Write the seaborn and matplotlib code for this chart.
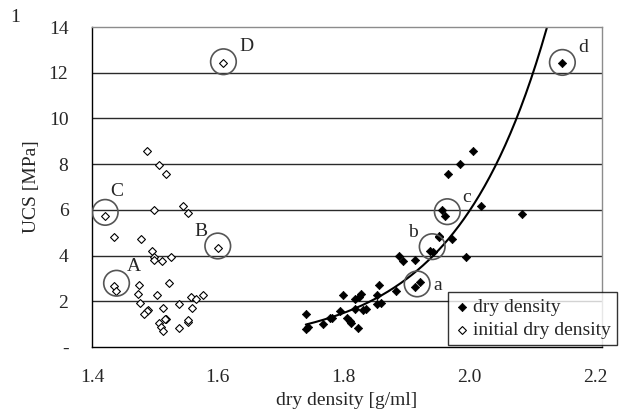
import numpy as np
import pandas as pd
import seaborn as sns
from matplotlib import pyplot as plt

# dry density [g/ml] and UCS [MPa] of the samples (black diamonds)
dry_density = [2.006, 1.985, 1.966, 1.956, 1.962, 2.018, 2.084, 1.952, 1.973,
               1.938, 1.942, 1.952, 1.994, 1.888, 1.894, 1.914, 1.914, 1.922, 1.856,
               1.883, 1.799, 1.827, 1.824, 1.819, 1.854, 1.859, 1.853, 1.794, 1.818,
               1.835, 1.831, 1.782, 1.767, 1.805, 1.810, 1.812, 1.823, 1.740, 1.741,
               1.743, 1.779, 2.147]
ucs_dry = [8.59, 7.99, 7.55, 5.99, 5.73, 6.15, 5.83, 4.83, 4.71,
           4.20, 4.17, 4.86, 3.95, 3.98, 3.76, 3.81, 2.64, 2.83, 2.71,
           2.45, 2.27, 2.32, 2.20, 2.09, 2.27, 1.94, 1.88, 1.59, 1.68,
           1.65, 1.62, 1.25, 1.01, 1.28, 1.14, 1.04, 0.82, 1.44, 0.77,
           0.86, 1.25, 12.41]

# initial dry density [g/ml] and UCS [MPa] (open diamonds)
initial_density = [1.487, 1.506, 1.517, 1.420, 1.498, 1.544, 1.553, 1.435, 1.478,
                   1.495, 1.499, 1.498, 1.512, 1.526, 1.435, 1.438, 1.474, 1.523,
                   1.473, 1.503, 1.477, 1.557, 1.565, 1.577, 1.538, 1.559, 1.513,
                   1.489, 1.487, 1.482, 1.518, 1.516, 1.553, 1.507, 1.509, 1.538,
                   1.513, 1.553, 1.600, 1.608]
ucs_initial = [8.59, 7.98, 7.55, 5.72, 5.99, 6.17, 5.85, 4.81, 4.71,
               4.19, 3.95, 3.81, 3.76, 3.95, 2.67, 2.44, 2.70, 2.81,
               2.31, 2.26, 1.92, 2.20, 2.10, 2.26, 1.88, 1.69, 1.69,
               1.61, 1.56, 1.44, 1.24, 1.21, 1.11, 1.04, 0.89, 0.84,
               0.69, 1.18, 4.33, 12.41]

# marked samples: circle centres and letters
mark_labels = ['A', 'B', 'C', 'D', 'a', 'b', 'c', 'd']
mark_x = [1.439, 1.600, 1.421, 1.609, 1.917, 1.941, 1.965, 2.148]
mark_y = [2.79, 4.42, 5.89, 12.48, 2.76, 4.39, 5.92, 12.45]
text_x = [1.466, 1.574, 1.440, 1.646, 1.950, 1.910, 1.995, 2.181]
text_y = [3.51, 5.04, 6.79, 13.14, 2.67, 5.00, 6.53, 13.11]

x_ticks = [1.4, 1.6, 1.8, 2.0, 2.2]
x_tick_labels = ['1.4', '1.6', '1.8', '2.0', '2.2']
y_ticks = [0, 2, 4, 6, 8, 10, 12, 14]
y_tick_labels = ['-', '2', '4', '6', '8', '10', '12', '14']

df_dry = pd.DataFrame({'density': dry_density, 'ucs': ucs_dry})
df_init = pd.DataFrame({'density': initial_density, 'ucs': ucs_initial})

sns.set_style('white')
plt.rcParams['font.family'] = ['Liberation Serif', 'DejaVu Serif']
fs = 14

fig = plt.figure(figsize=(6.26, 4.13), dpi=100)
ax = fig.add_axes([92 / 626, 1 - 347 / 413, 510 / 626, 320 / 413])

for yv in y_ticks[1:-1]:
    ax.axhline(yv, color='#2a2a2a', lw=1.0, zorder=0)

# exponential trend line fitted to the dry density points
coef = np.polyfit(df_dry['density'], np.log(df_dry['ucs']), 1)
xs = np.linspace(min(dry_density), max(dry_density), 200)
ax.plot(xs, np.exp(np.polyval(coef, xs)), color='black', lw=1.5, zorder=2)

sns.scatterplot(data=df_dry, x='density', y='ucs', marker='D', s=18, color='black',
                edgecolor='black', linewidth=0.5, label='dry density', ax=ax, zorder=3)
sns.scatterplot(data=df_init, x='density', y='ucs', marker='D', s=16, facecolor='white',
                edgecolor='black', linewidth=0.8, label='initial dry density', ax=ax, zorder=3)

ax.scatter(mark_x, mark_y, s=340, facecolors='none', edgecolors='#555555', linewidths=1.2, zorder=4)
for lab, tx, ty in zip(mark_labels, text_x, text_y):
    ax.text(tx, ty, lab, fontsize=fs, ha='center', va='center')

ax.set_xlim(1.4, 2.211)
ax.set_ylim(0, 14)
ax.set_xticks(x_ticks)
ax.set_xticklabels(x_tick_labels, fontsize=fs)
ax.set_yticks(y_ticks)
ax.set_yticklabels(y_tick_labels, fontsize=fs)
ax.tick_params(axis='both', direction='out', length=5, width=1, color='black')
ax.tick_params(axis='x', pad=11)
ax.tick_params(axis='y', pad=12)
ax.set_xlabel('dry density [g/ml]', fontsize=fs, labelpad=4)
ax.set_ylabel('UCS [MPa]', fontsize=fs, labelpad=6)

for side in ['left', 'bottom']:
    ax.spines[side].set_color('black')
    ax.spines[side].set_linewidth(1.0)
for side in ['top', 'right']:
    ax.spines[side].set_color('#8c8c8c')
    ax.spines[side].set_linewidth(1.0)

leg = ax.legend(loc='lower right', bbox_to_anchor=(617 / 626, 1 - 345 / 413),
                bbox_transform=fig.transFigure, fontsize=fs, frameon=True, fancybox=False,
                handletextpad=0.2, handlelength=0.8, borderpad=0.3, labelspacing=0.3,
                borderaxespad=0)
leg.get_frame().set_edgecolor('black')
leg.get_frame().set_linewidth(1.0)

fig.text(15 / 626, 1 - 18 / 413, '1', fontsize=fs, ha='center', va='center')

fig.savefig('out.png', dpi=100)
